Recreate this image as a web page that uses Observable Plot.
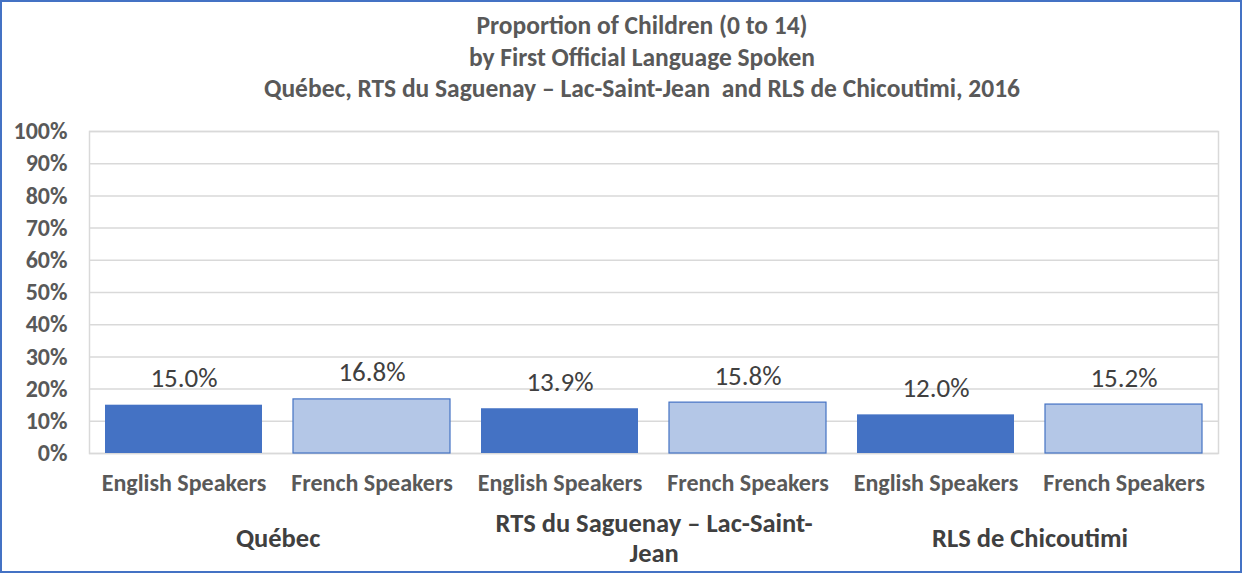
<!DOCTYPE html>
<html>
<head>
<meta charset="utf-8">
<script src="https://cdn.jsdelivr.net/npm/d3@7"></script>
<script src="https://cdn.jsdelivr.net/npm/@observablehq/plot@0.6"></script>
<style>
  html, body { margin: 0; padding: 0; background: #fff; }
  #wrap {
    width: 1242px; height: 573px; box-sizing: border-box;
    border: 2px solid #4472C4; background: #fff; overflow: hidden;
    font-family: Carlito, Calibri, Lato, sans-serif;
  }
  #title {
    padding-top: 8px; padding-left: 42px; height: 101px; box-sizing: border-box;
    text-align: center; color: #595959; font-weight: bold; font-size: 25.5px; line-height: 31.5px;
  }
  svg { display: block; }
</style>
</head>
<body>
<div id="wrap">
  <div id="title">
    <div>Proportion of Children (0 to 14)</div>
    <div>by First Official Language Spoken</div>
    <div>Québec, RTS du Saguenay – Lac-Saint-Jean&nbsp; and RLS de Chicoutimi, 2016</div>
  </div>
  <div id="chart"></div>
</div>
<script>
const regions = ["Québec", "RTS du Saguenay – Lac-Saint-Jean", "RLS de Chicoutimi"];
const regionLabels = ["Québec", "RTS du Saguenay – Lac-Saint-\nJean", "RLS de Chicoutimi"];
const languages = ["English Speakers", "French Speakers"];
const englishValues = [15.0, 13.9, 12.0];
const frenchValues = [16.8, 15.8, 15.2];
const yTicks = [0, 10, 20, 30, 40, 50, 60, 70, 80, 90, 100];

const rows = [];
regions.forEach((r, i) => {
  rows.push({key: r + "|" + languages[0], region: r, lang: languages[0], value: englishValues[i]});
  rows.push({key: r + "|" + languages[1], region: r, lang: languages[1], value: frenchValues[i]});
});
const keys = rows.map(d => d.key);

const W = 1238, H = 468, mL = 87, mR = 22, mT = 28, mB = 118;
const step = (W - mL - mR) / keys.length;

const plot = Plot.plot({
  width: W, height: H,
  marginLeft: mL, marginRight: mR, marginTop: mT, marginBottom: mB,
  style: {fontFamily: "Carlito, Calibri, Lato, sans-serif", background: "#fff"},
  x: {domain: keys, paddingInner: 0.165, paddingOuter: 0.0825, label: null},
  y: {domain: [0, 100], label: null},
  marks: [
    Plot.ruleY(yTicks, {stroke: "#d9d9d9", strokeWidth: 1.5}),
    Plot.frame({stroke: "#d9d9d9", strokeWidth: 1.5}),
    Plot.axisY({ticks: yTicks, tickFormat: d => d + "%", tickSize: 0, tickPadding: 22,
      fontSize: 24, fontWeight: "bold", fill: "#595959", label: null}),
    Plot.axisX({tickFormat: k => k.split("|")[1], tickSize: 0, tickPadding: 20,
      fontSize: 24, fontWeight: "bold", fill: "#595959", label: null}),
    Plot.barY(rows, {x: "key", y: "value",
      fill: d => d.lang === languages[0] ? "#4472C4" : "#B4C7E7",
      stroke: d => d.lang === languages[0] ? "none" : "#4472C4", strokeWidth: 1.2}),
    Plot.text(rows, {x: "key", y: "value", text: d => d.value.toFixed(1) + "%",
      lineAnchor: "bottom", dy: -18, fontSize: 27, fill: "#404040"}),
    Plot.text(regions, {x: r => r + "|" + languages[0], text: (r, i) => regionLabels[i],
      frameAnchor: "bottom", lineAnchor: "middle", dx: step / 2, dy: 84,
      fontSize: 26.5, fontWeight: "bold", fill: "#404040", lineHeight: 1.14})
  ]
});
document.getElementById("chart").appendChild(plot);
</script>
</body>
</html>
